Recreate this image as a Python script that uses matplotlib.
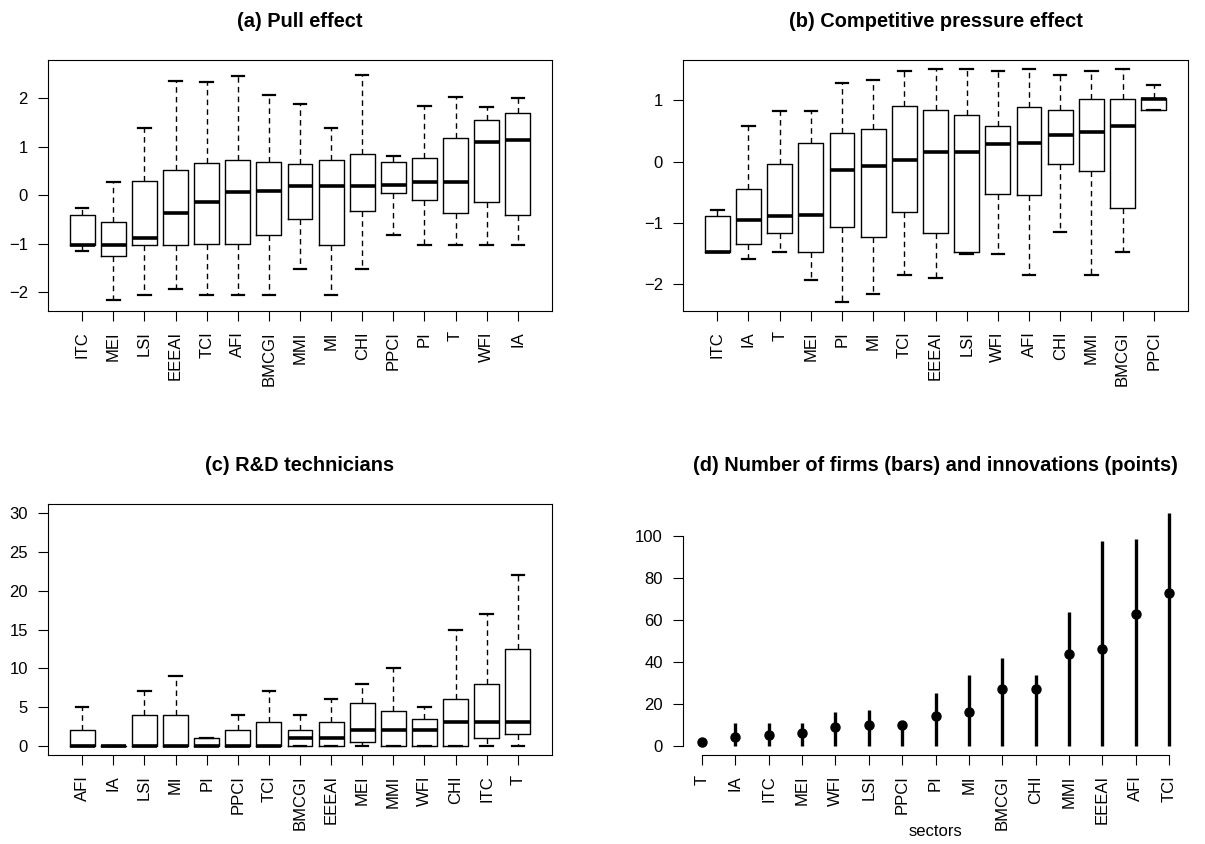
import matplotlib
matplotlib.use("Agg")
import matplotlib.pyplot as plt

plt.rcParams["font.family"] = ["Liberation Sans", "DejaVu Sans"]
plt.rcParams["font.size"] = 12

W, H = 1205, 844

# (a) pull effect: whisker low, Q1, median, Q3, whisker high
pull_sectors = ["ITC", "MEI", "LSI", "EEEAI", "TCI", "AFI", "BMCGI", "MMI",
                "MI", "CHI", "PPCI", "PI", "T", "WFI", "IA"]
pull_low  = [-1.15, -2.17, -2.05, -1.93, -2.05, -2.05, -2.05, -1.52, -2.05, -1.52, -0.82, -1.03, -1.03, -1.03, -1.03]
pull_q1   = [-1.03, -1.25, -1.03, -1.03, -1.00, -1.00, -0.83, -0.50, -1.03, -0.33, 0.04, -0.09, -0.37, -0.14, -0.41]
pull_med  = [-1.03, -1.03, -0.89, -0.37, -0.15, 0.06, 0.08, 0.18, 0.18, 0.19, 0.22, 0.28, 0.28, 1.10, 1.14]
pull_q3   = [-0.40, -0.56, 0.30, 0.51, 0.66, 0.73, 0.68, 0.64, 0.73, 0.85, 0.68, 0.76, 1.17, 1.55, 1.70]
pull_high = [-0.27, 0.27, 1.38, 2.36, 2.34, 2.46, 2.06, 1.89, 1.38, 2.48, 0.80, 1.84, 2.03, 1.81, 2.00]

# (b) competitive pressure effect
comp_sectors = ["ITC", "IA", "T", "MEI", "PI", "MI", "TCI", "EEEAI", "LSI",
                "WFI", "AFI", "CHI", "MMI", "BMCGI", "PPCI"]
comp_low  = [-1.47, -1.59, -1.47, -1.93, -2.29, -2.16, -1.85, -1.90, -1.51, -1.51, -1.85, -1.15, -1.85, -1.47, 0.85]
comp_q1   = [-1.47, -1.35, -1.17, -1.47, -1.07, -1.23, -0.82, -1.16, -1.47, -0.53, -0.54, -0.04, -0.16, -0.75, 0.85]
comp_med  = [-1.47, -0.95, -0.89, -0.87, -0.14, -0.07, 0.03, 0.16, 0.16, 0.29, 0.30, 0.44, 0.48, 0.59, 1.02]
comp_q3   = [-0.89, -0.45, -0.04, 0.31, 0.46, 0.53, 0.91, 0.85, 0.76, 0.59, 0.89, 0.85, 1.03, 1.02, 1.04]
comp_high = [-0.79, 0.59, 0.82, 0.83, 1.28, 1.34, 1.48, 1.51, 1.51, 1.48, 1.51, 1.42, 1.48, 1.51, 1.25]

# (c) R&D technicians
tech_sectors = ["AFI", "IA", "LSI", "MI", "PI", "PPCI", "TCI", "BMCGI", "EEEAI",
                "MEI", "MMI", "WFI", "CHI", "ITC", "T"]
tech_low  = [0, 0, 0, 0, 0, 0, 0, 0, 0, 0, 0, 0, 0, 0, 0]
tech_q1   = [0, 0, 0, 0, 0, 0, 0, 0, 0, 0.5, 0, 0, 0, 1, 1.5]
tech_med  = [0, 0, 0, 0, 0, 0, 0, 1, 1, 2, 2, 2, 3, 3, 3]
tech_q3   = [2, 0, 4, 4, 1, 2, 3, 2, 3, 5.5, 4.5, 3.5, 6, 8, 12.5]
tech_high = [5, 0, 7, 9, 1, 4, 7, 4, 6, 8, 10, 5, 15, 17, 22]

# (d) number of firms (bars) and innovations (points)
count_sectors = ["T", "IA", "ITC", "MEI", "WFI", "LSI", "PPCI", "PI", "MI",
                 "BMCGI", "CHI", "MMI", "EEEAI", "AFI", "TCI"]
firms       = [2, 11, 11, 11, 16, 17, 10, 25, 34, 42, 34, 64, 98, 99, 111]
innovations = [2, 4, 5, 6, 9, 10, 10, 14, 16, 27, 27, 44, 46, 63, 73]


def place(fig, left, top, right, bottom):
    # pixel box -> figure fractions
    return fig.add_axes([left / W, 1 - bottom / H, (right - left) / W, (bottom - top) / H])


def style(ax):
    ax.tick_params(direction="out", length=7.5, width=0.8, pad=7,
                   labelsize=12, color="black")
    for s in ax.spines.values():
        s.set_linewidth(0.8)


def draw_boxes(ax, sectors, low, q1, med, q3, high, ylim, yticks, title):
    stats = [dict(whislo=a, q1=b, med=c, q3=d, whishi=e)
             for a, b, c, d, e in zip(low, q1, med, q3, high)]
    ax.bxp(stats, widths=0.8, capwidths=0.4, showfliers=False,
           boxprops=dict(color="black", linewidth=1.0),
           whiskerprops=dict(color="black", linewidth=1.0, linestyle=(0, (4, 3))),
           capprops=dict(color="black", linewidth=1.6),
           medianprops=dict(color="black", linewidth=2.6))
    n = len(sectors)
    ax.set_xlim(-0.1, n + 1.1)
    ax.set_xticks(range(1, n + 1))
    ax.set_xticklabels(sectors, rotation=90)
    ax.set_ylim(*ylim)
    ax.set_yticks(yticks)
    ax.set_title(title, fontsize=14.4, fontweight="bold", pad=24)
    style(ax)


fig = plt.figure(figsize=(W / 100, H / 100), dpi=100)

ax_a = place(fig, 48, 60, 552, 311)
draw_boxes(ax_a, pull_sectors, pull_low, pull_q1, pull_med, pull_q3, pull_high,
           (-2.39, 2.79), [-2, -1, 0, 1, 2], "(a) Pull effect")

ax_b = place(fig, 683, 60, 1188, 311)
draw_boxes(ax_b, comp_sectors, comp_low, comp_q1, comp_med, comp_q3, comp_high,
           (-2.44, 1.66), [-2, -1, 0, 1], "(b) Competitive pressure effect")

ax_c = place(fig, 48, 504, 552, 755)
draw_boxes(ax_c, tech_sectors, tech_low, tech_q1, tech_med, tech_q3, tech_high,
           (-1.2, 31.2), [0, 5, 10, 15, 20, 25, 30], "(c) R&D technicians")

ax_d = place(fig, 683, 504, 1188, 755)
x = list(range(1, len(count_sectors) + 1))
ax_d.vlines(x, 0, firms, color="black", linewidth=2.4)
ax_d.plot(x, innovations, "o", color="black", markersize=6.5)
ax_d.set_xlim(0.44, len(count_sectors) + 0.56)
ax_d.set_ylim(-4.4, 115.5)
ax_d.set_xticks(x)
ax_d.set_xticklabels(count_sectors, rotation=90)
ax_d.set_yticks([0, 20, 40, 60, 80, 100])
ax_d.spines["top"].set_visible(False)
ax_d.spines["right"].set_visible(False)
ax_d.spines["left"].set_bounds(0, 100)
ax_d.spines["bottom"].set_bounds(1, len(count_sectors))
ax_d.set_title("(d) Number of firms (bars) and innovations (points)",
               fontsize=14.4, fontweight="bold", pad=24)
style(ax_d)
ax_d.set_xlabel("sectors", fontsize=12)
ax_d.xaxis.set_label_coords(0.5, -0.323)
ax_d.xaxis.label.set_va("baseline")

fig.savefig("out.png", dpi=100)
